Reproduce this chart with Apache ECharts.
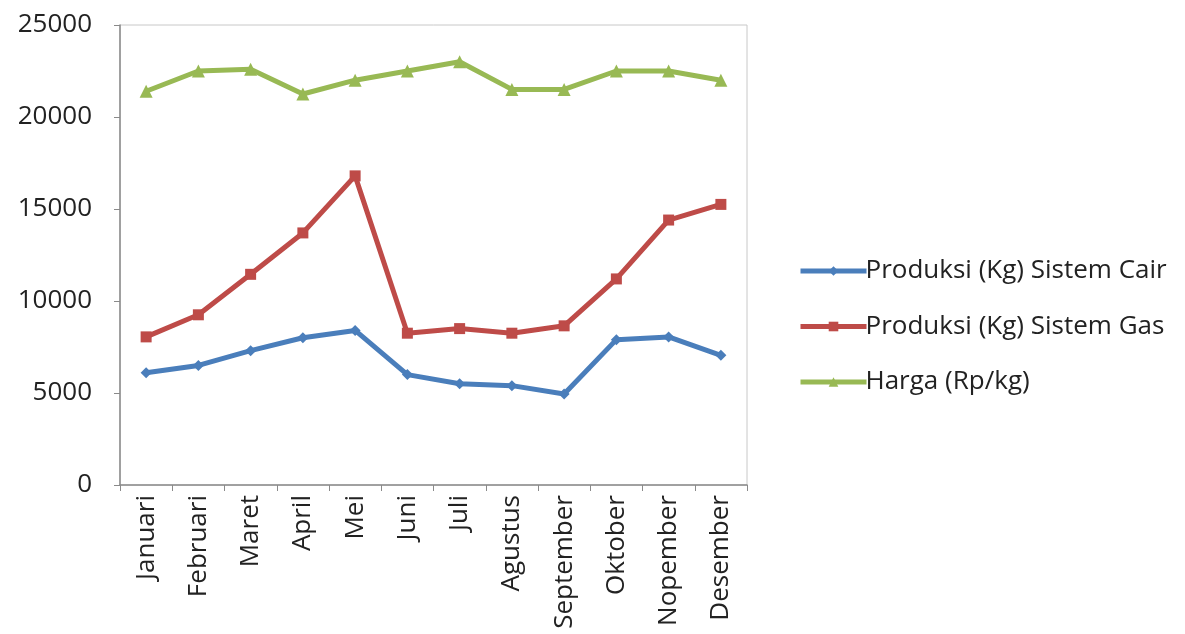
<!DOCTYPE html>
<html>
<head>
<meta charset="utf-8">
<script src="https://cdn.jsdelivr.net/npm/echarts@6/dist/echarts.min.js"></script>
<style>
  html, body { margin: 0; padding: 0; background: #fff; }
  #chart { width: 1185px; height: 634px; }
</style>
</head>
<body>
<div id="chart"></div>
<script>
// bulan
const months = ['Januari', 'Februari', 'Maret', 'April', 'Mei', 'Juni', 'Juli',
  'Agustus', 'September', 'Oktober', 'Nopember', 'Desember'];
// data per seri
const cairValues = [6100, 6500, 7300, 8000, 8400, 6000, 5500, 5400, 4950, 7900, 8050, 7050];
const gasValues = [8050, 9250, 11450, 13700, 16800, 8250, 8500, 8250, 8650, 11200, 14400, 15250];
const hargaValues = [21400, 22500, 22600, 21250, 22000, 22500, 23000, 21500, 21500, 22500, 22500, 22000];
const seriesNames = ['Produksi (Kg) Sistem Cair', 'Produksi (Kg) Sistem Gas', 'Harga (Rp/kg)'];

const font = '"Open Sans", "Noto Sans", sans-serif';

function makeLine(name, data, color, symbol, size) {
  return {
    name: name,
    type: 'line',
    data: data,
    symbol: symbol,
    symbolSize: size,
    lineStyle: { color: color, width: 5 },
    itemStyle: { color: color },
    emphasis: { disabled: true }
  };
}

const chart = echarts.init(document.getElementById('chart'));
chart.setOption({
  animation: false,
  textStyle: { fontFamily: font },
  grid: {
    left: 120, right: 438, top: 25, bottom: 149,
    show: true, borderColor: '#c8c8c8', borderWidth: 1
  },
  legend: {
    orient: 'vertical',
    left: 793,
    top: 248,
    itemWidth: 66,
    itemHeight: 12,
    itemGap: 19.5,
    data: seriesNames,
    lineStyle: { width: 5 },
    textStyle: { fontSize: 26, lineHeight: 36, color: '#222', fontFamily: font, padding: [0, 0, 0, -6] }
  },
  xAxis: {
    type: 'category',
    data: months,
    boundaryGap: true,
    axisLine: { lineStyle: { color: '#8a8a8a', width: 1.5 } },
    axisTick: { show: true, inside: false, length: 6, lineStyle: { color: '#8a8a8a' } },
    axisLabel: { rotate: 90, fontSize: 26, color: '#222', margin: 10, interval: 0 }
  },
  yAxis: {
    type: 'value',
    min: 0,
    max: 25000,
    interval: 5000,
    splitLine: { show: false },
    axisLine: { show: true, lineStyle: { color: '#8a8a8a', width: 1.5 } },
    axisTick: { show: true, inside: false, length: 6, lineStyle: { color: '#8a8a8a' } },
    axisLabel: { fontSize: 26, color: '#222', margin: 28, formatter: (v) => String(v) }
  },
  series: [
    makeLine(seriesNames[0], cairValues, '#4a7ebb', 'diamond', 11),
    makeLine(seriesNames[1], gasValues, '#be4b48', 'rect', 11),
    makeLine(seriesNames[2], hargaValues, '#98b954', 'triangle', 13)
  ]
});
</script>
</body>
</html>
